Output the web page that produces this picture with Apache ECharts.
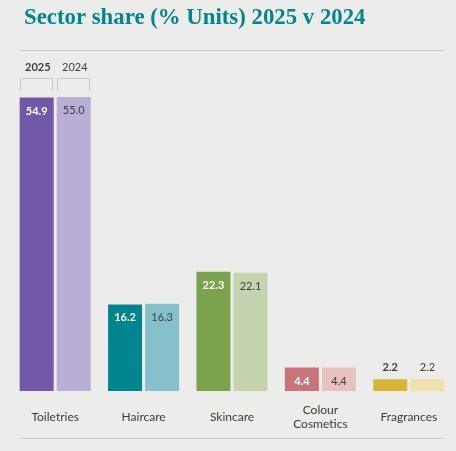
<!DOCTYPE html>
<html lang="en">
<head>
    <meta charset="UTF-8">
    <script src="https://cdn.jsdelivr.net/npm/echarts@6/dist/echarts.min.js"></script>
    <title>Sector share</title>
    <style>
        html, body { margin: 0; padding: 0; background: #ECEDEA; }
        #chart { width: 456px; height: 451px; }
    </style>
</head>
<body>
    <div id="chart"></div>
    <script>
        var categories = ['Toiletries', 'Haircare', 'Skincare', 'Colour\nCosmetics', 'Fragrances']
        var share2025 = [54.9, 16.2, 22.3, 4.4, 2.2]
        var share2024 = [55.0, 16.3, 22.1, 4.4, 2.2]
        var colors2025 = ['#7158A8', '#00848E', '#7BA24C', '#CB737A', '#D8B535']
        var colors2024 = ['#B9AED6', '#86C1CB', '#C5D4AE', '#E6C1BE', '#EFE0AC']

        var myCharts = echarts.init(document.getElementById('chart'))

        // small values get their label above the bar
        function makeData(values, cols, bold) {
            return values.map(function (v, i) {
                var small = v < 3
                return {
                    value: v,
                    itemStyle: { color: cols[i] },
                    label: {
                        position: small ? 'top' : 'insideTop',
                        distance: small ? 6 : 8,
                        color: (bold && !small) ? '#ffffff' : '#3d3d3d'
                    }
                }
            })
        }

        var labelBase = {
            show: true,
            fontFamily: 'Lato',
            fontSize: 11,
            formatter: function (p) { return p.value.toFixed(1) }
        }

        var option = {
            backgroundColor: '#ECEDEA',
            title: {
                text: 'Sector share (% Units) 2025 v 2024',
                left: 19,
                top: 2,
                textStyle: {
                    fontFamily: 'Liberation Serif',
                    fontWeight: 'bold',
                    fontSize: 22.8,
                    color: '#00868E'
                }
            },
            grid: { left: 11, right: 3, top: 97, bottom: 60, containLabel: false },
            xAxis: {
                type: 'category',
                data: categories,
                axisLine: { show: false },
                axisTick: { show: false },
                axisLabel: {
                    margin: 26,
                    verticalAlign: 'middle',
                    fontFamily: 'Lato',
                    fontSize: 12,
                    lineHeight: 14,
                    color: '#3a3a3a'
                }
            },
            yAxis: {
                type: 'value',
                min: 0,
                max: 55,
                show: false
            },
            series: [
                {
                    name: '2025',
                    type: 'bar',
                    barWidth: 34,
                    barGap: '9%',
                    data: makeData(share2025, colors2025, true),
                    label: Object.assign({}, labelBase, { fontWeight: 'bold' })
                },
                {
                    name: '2024',
                    type: 'bar',
                    barWidth: 34,
                    data: makeData(share2024, colors2024, false),
                    label: Object.assign({}, labelBase)
                }
            ],
            graphic: [
                { type: 'line', shape: { x1: 20, y1: 50.5, x2: 444, y2: 50.5 }, style: { stroke: '#c8c9c8', lineWidth: 1 } },
                { type: 'line', shape: { x1: 20, y1: 438.5, x2: 444, y2: 438.5 }, style: { stroke: '#c8c9c8', lineWidth: 1 } },
                { type: 'text', left: 25, top: 62, style: { text: '2025', fontFamily: 'Lato', fontWeight: 'bold', fontSize: 11, fill: '#3d3d3d' } },
                { type: 'text', left: 62, top: 62, style: { text: '2024', fontFamily: 'Lato', fontSize: 11, fill: '#3d3d3d' } },
                { type: 'polyline', shape: { points: [[20.5, 91], [20.5, 78.5], [52.5, 78.5], [52.5, 91]] }, style: { stroke: '#c8c9c8', fill: null, lineWidth: 1 } },
                { type: 'polyline', shape: { points: [[57.5, 91], [57.5, 78.5], [89.5, 78.5], [89.5, 91]] }, style: { stroke: '#c8c9c8', fill: null, lineWidth: 1 } }
            ]
        }
        myCharts.setOption(option)
    </script>
</body>
</html>
